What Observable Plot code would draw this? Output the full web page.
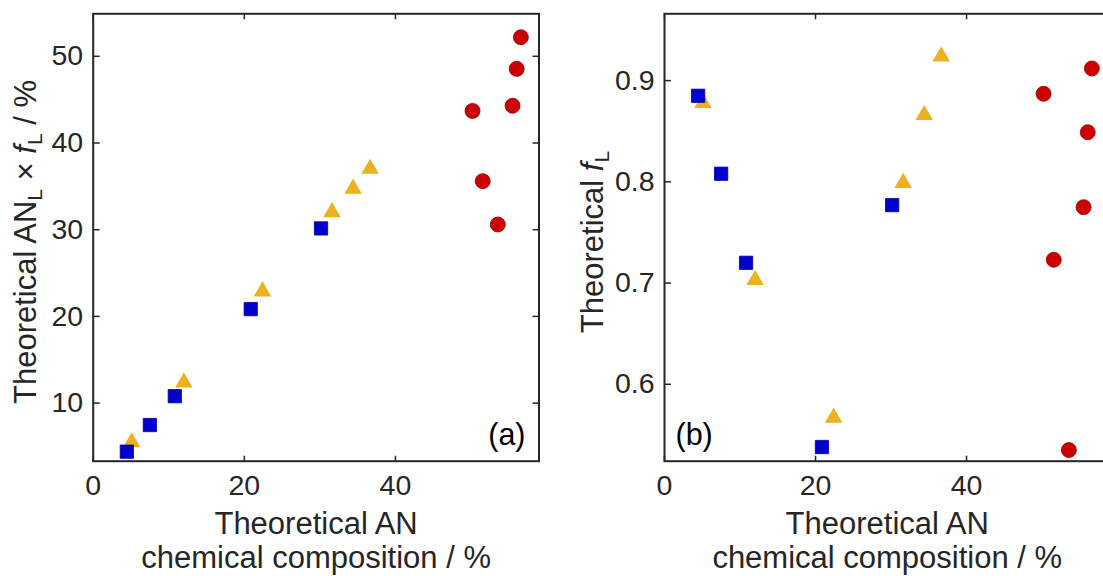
<!DOCTYPE html>
<html><head><meta charset="utf-8">
<script src="https://cdn.jsdelivr.net/npm/d3@7"></script>
<script src="https://cdn.jsdelivr.net/npm/@observablehq/plot@0.6"></script>
<style>
html,body{margin:0;padding:0;background:#fff;overflow:hidden;width:1103px;height:576px;}
#wrap{position:relative;width:1103px;height:576px;overflow:hidden;}
#wrap svg{position:absolute;top:0;overflow:visible;}
</style></head><body><div id="wrap"></div>
<script>
// Theoretical AN (chemical composition, %) — shared x values
const sqAN   = [4.45, 7.5, 10.8, 20.85, 30.15];
const triAN  = [5.1, 12.0, 22.4, 31.6, 34.4, 36.65];
const circAN = [50.2, 51.55, 53.55, 55.5, 56.05, 56.6];

// Panel (a): Theoretical AN_L x f_L / %
const sqA   = [4.4, 7.47, 10.8, 20.84, 30.15];
const triA  = [5.25, 12.15, 22.65, 31.8, 34.5, 36.8];
const circA = [43.7, 35.6, 30.6, 44.3, 48.55, 52.2];

// Panel (b): Theoretical f_L
const sqB   = [0.885, 0.808, 0.72, 0.538, 0.777];
const triB  = [0.876, 0.701, 0.565, 0.797, 0.864, 0.922];
const circB = [0.887, 0.723, 0.535, 0.775, 0.849, 0.912];

// Axes
const xTicks = [0, 20, 40];
const xDomain = [0, 59];
const yTicksA = [10, 20, 30, 40, 50];
const yDomainA = [3.3, 54.9];
const yTicksB = [0.6, 0.7, 0.8, 0.9];
const yDomainB = [0.524, 0.966];

const xLabel1 = "Theoretical AN";
const xLabel2 = "chemical composition / %";

const INK = "#262626";
const FONT = "'Liberation Sans', Arial, Helvetica, sans-serif";

function rows(xs, ys) { return xs.map((x, i) => ({x, y: ys[i]})); }

function panel({yDomain, yTicks, sq, tri, circ, tag, tagAnchor, tagDx, width, marginLeft, marginRight}) {
  const tk = {tickSize: 6, fill: "none", label: null, stroke: INK, strokeWidth: 1.5};
  return Plot.plot({
    width, height: 576,
    marginLeft, marginRight, marginTop: 13.3, marginBottom: 115.3,
    style: {fontFamily: FONT, color: INK, background: "transparent", overflow: "visible"},
    x: {domain: xDomain, axis: null},
    y: {domain: yDomain, axis: null},
    marks: [
      // inward tick marks on all four sides (box on): ticks drawn from the opposite anchor
      Plot.axisX(xTicks, {...tk, anchor: "top", frameAnchor: "bottom"}),
      Plot.axisX(xTicks, {...tk, anchor: "bottom", frameAnchor: "top"}),
      Plot.axisY(yTicks, {...tk, anchor: "right", frameAnchor: "left"}),
      Plot.axisY(yTicks, {...tk, anchor: "left", frameAnchor: "right"}),
      // tick labels
      Plot.axisX(xTicks, {anchor: "bottom", tickSize: 0, tickPadding: 14, fontSize: 28.5, label: null, fill: INK, tickFormat: d => String(d)}),
      Plot.axisY(yTicks, {anchor: "left", tickSize: 0, tickPadding: 10, fontSize: 28.5, label: null, fill: INK, tickFormat: d => String(d)}),
      // data
      Plot.dot(rows(triAN, tri), {x: "x", y: "y", symbol: "triangle", r: 6.5, fill: "#EDB120", dy: -2}),
      Plot.dot(rows(sqAN, sq), {x: "x", y: "y", symbol: "square", r: 7.5, fill: "#0000CC", stroke: "#0000A0", strokeWidth: 0.8}),
      Plot.dot(rows(circAN, circ), {x: "x", y: "y", symbol: "circle", r: 7.5, fill: "#CC0000", stroke: "#990000", strokeWidth: 0.8}),
      // frame
      Plot.frame({stroke: INK, strokeWidth: 2}),
      // x-axis title (two lines)
      Plot.text([xLabel1], {text: d => d, frameAnchor: "bottom", lineAnchor: "bottom", dy: 72.6, fontSize: 31, fill: INK}),
      Plot.text([xLabel2], {text: d => d, frameAnchor: "bottom", lineAnchor: "bottom", dy: 107, fontSize: 31, fill: INK}),
      // panel tag
      Plot.text([tag], {text: d => d, frameAnchor: tagAnchor, textAnchor: tagAnchor === "bottom-right" ? "end" : "start", lineAnchor: "bottom", dx: tagDx, dy: -16, fontSize: 30.5, fill: "#000"})
    ]
  });
}

function addYLabel(svg, x, y, parts) {
  const t = d3.select(svg).append("text")
    .attr("transform", `translate(${x},${y}) rotate(-90)`)
    .attr("text-anchor", "middle")
    .attr("font-family", FONT)
    .attr("font-size", 31)
    .attr("fill", INK);
  for (const p of parts) {
    const s = t.append("tspan").text(p.t);
    if (p.sub) s.attr("font-size", 21).attr("baseline-shift", "-28%");
    if (p.it) s.attr("font-style", "italic");
  }
}

const wrap = document.getElementById("wrap");

const a = panel({yDomain: yDomainA, yTicks: yTicksA, sq: sqA, tri: triA, circ: circA,
  tag: "(a)", tagAnchor: "bottom-right", tagDx: -13.5, width: 560, marginLeft: 92.7, marginRight: 21.5});
a.style.left = "0px";
wrap.appendChild(a);
addYLabel(a, 36, 242, [
  {t: "Theoretical AN"}, {t: "L", sub: true}, {t: " × "}, {t: "f", it: true}, {t: "L", sub: true}, {t: " / %"}
]);

const b = panel({yDomain: yDomainB, yTicks: yTicksB, sq: sqB, tri: triB, circ: circB,
  tag: "(b)", tagAnchor: "bottom-left", tagDx: 11, width: 560, marginLeft: 104, marginRight: 10.5});
b.style.left = "560px";
wrap.appendChild(b);
addYLabel(b, 42.5, 242, [
  {t: "Theoretical "}, {t: "f", it: true}, {t: "L", sub: true}
]);
</script>
</body></html>
